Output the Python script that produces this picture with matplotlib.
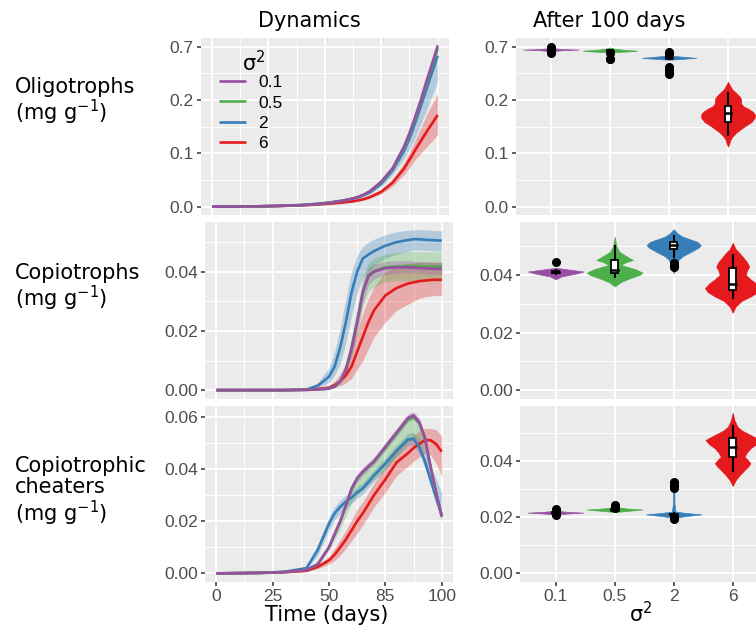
import numpy as np
import matplotlib
matplotlib.use('Agg')
import matplotlib.pyplot as plt
from matplotlib.patches import Rectangle

plt.rcParams['mathtext.fontset'] = 'dejavusans'

W, H = 756, 628
sigma_labels = ['0.1', '0.5', '2', '6']
colors = ['#984EA3', '#4DAF4A', '#377EB8', '#E41A1C']

# time grid of the dynamics panels (days)
time_days = [0, 10, 20, 30, 40, 45, 50, 52.5, 55, 57.5, 60, 62.5, 65, 67.5, 70,
             75, 80, 85, 87.5, 90, 92.5, 95, 97.5, 100]

# ---- oligotrophs (order: 0.1, 0.5, 2, 6) ----
oligo_mid = [
    [0, .0002, .0007, .0015, .003, .0045, .0065, .0078, .0093, .011, .013, .0155, .0185, .023, .029, .047, .072, .112, .138, .168, .200, .235, .268, .302],
    [0, .0002, .0007, .0015, .003, .0045, .0065, .0078, .0093, .011, .013, .0155, .0185, .023, .029, .046, .071, .110, .136, .165, .197, .231, .264, .297],
    [0, .0002, .0007, .0016, .0032, .0048, .0068, .008, .0095, .011, .013, .015, .018, .022, .027, .043, .068, .104, .128, .157, .188, .220, .252, .283],
    [0, .0002, .0006, .0013, .0025, .0035, .005, .0058, .0067, .0077, .0088, .010, .012, .0145, .018, .028, .045, .071, .088, .106, .123, .140, .156, .172],
]
oligo_lo = [
    [0, .0002, .0007, .0015, .003, .0044, .0063, .0076, .009, .0107, .0126, .015, .018, .0222, .028, .045, .069, .108, .133, .162, .193, .227, .259, .292],
    [0, .0002, .0007, .0015, .003, .0044, .0063, .0076, .009, .0107, .0126, .015, .018, .0222, .028, .044, .068, .106, .131, .159, .190, .223, .255, .287],
    [0, .0002, .0007, .0015, .003, .0045, .0064, .0075, .0088, .010, .0118, .0135, .016, .0195, .024, .038, .060, .090, .108, .130, .155, .180, .208, .235],
    [0, .0002, .0006, .0012, .0023, .0032, .0045, .0052, .006, .0069, .0079, .009, .0105, .0125, .0155, .024, .038, .060, .073, .088, .100, .112, .123, .135],
]
oligo_hi = [
    [0, .0002, .0007, .0015, .003, .0046, .0067, .008, .0096, .0113, .0134, .016, .019, .0238, .030, .049, .075, .116, .143, .174, .207, .243, .277, .312],
    [0, .0002, .0007, .0015, .003, .0046, .0067, .008, .0096, .0113, .0134, .016, .019, .0238, .030, .048, .074, .114, .141, .171, .204, .239, .273, .307],
    [0, .0002, .0007, .0017, .0034, .005, .0071, .0084, .01, .0117, .0138, .016, .019, .0235, .0285, .046, .072, .109, .134, .163, .195, .227, .259, .291],
    [0, .0002, .0006, .0014, .0027, .0038, .0055, .0064, .0074, .0085, .0097, .011, .0135, .0165, .0205, .032, .052, .082, .102, .125, .148, .172, .192, .212],
]

# ---- copiotrophs ----
copio_mid = [
    [0, 0, 0, 0, .0001, .0002, .0005, .0012, .003, .007, .014, .023, .033, .0385, .040, .0412, .0415, .0415, .0414, .0413, .0412, .0411, .041, .041],
    [0, 0, 0, 0, .0001, .0002, .0005, .0012, .003, .007, .0142, .0233, .0333, .0388, .0403, .0415, .0418, .0419, .0419, .0419, .0418, .0418, .0418, .0418],
    [0, 0, 0, 0, .0002, .0015, .0045, .008, .0145, .023, .033, .040, .0445, .0458, .047, .0488, .050, .0507, .051, .051, .0508, .0507, .0506, .0505],
    [0, 0, 0, 0, .0001, .0004, .0008, .0017, .003, .005, .008, .013, .018, .023, .027, .032, .0345, .036, .0364, .0368, .037, .0372, .0373, .0373],
]
copio_lo = [
    [0, 0, 0, 0, .0001, .0002, .0004, .001, .0025, .006, .012, .02, .0295, .0355, .0375, .039, .0395, .0397, .0396, .0395, .0394, .0393, .0392, .0392],
    [0, 0, 0, 0, .0001, .0002, .0004, .0009, .0022, .0052, .011, .019, .028, .033, .035, .0365, .037, .037, .0369, .0368, .0368, .0368, .0368, .0368],
    [0, 0, 0, 0, .0001, .0008, .0025, .005, .009, .016, .025, .033, .038, .040, .042, .0445, .046, .0468, .0472, .0473, .0472, .0471, .047, .0469],
    [0, 0, 0, 0, .0001, .0002, .0004, .0008, .0015, .0025, .004, .007, .010, .014, .018, .023, .027, .029, .030, .031, .0315, .0318, .032, .032],
]
copio_hi = [
    [0, 0, 0, 0, .0001, .0002, .0006, .0014, .0035, .008, .016, .026, .0365, .0415, .0425, .0435, .0437, .0437, .0436, .0435, .0434, .0433, .0432, .0432],
    [0, 0, 0, 0, .0001, .0003, .0007, .0016, .004, .0092, .018, .028, .038, .043, .0445, .046, .0465, .0468, .0468, .0468, .0467, .0467, .0467, .0467],
    [0, 0, 0, 0, .0004, .0025, .0075, .013, .021, .031, .040, .0455, .0485, .050, .051, .0525, .0535, .054, .0542, .0542, .0541, .054, .0539, .0538],
    [0, 0, 0, 0, .0002, .0008, .0016, .003, .0055, .009, .014, .020, .026, .031, .035, .040, .042, .0428, .043, .0432, .0432, .0432, .0432, .0432],
]

# ---- copiotrophic cheaters ----
cheat_mid = [
    [0, .0001, .0002, .0005, .0013, .0035, .010, .015, .020, .026, .0325, .0365, .039, .041, .043, .0485, .054, .0595, .0605, .058, .052, .041, .031, .0217],
    [0, .0001, .0002, .0005, .0013, .0035, .010, .015, .020, .026, .0322, .0362, .0387, .0407, .0427, .048, .0535, .0588, .0598, .0575, .0518, .041, .031, .022],
    [0, .0001, .0002, .0006, .002, .009, .019, .023, .0255, .0275, .029, .031, .0325, .035, .0375, .042, .047, .0513, .0515, .0485, .043, .036, .029, .0223],
    [0, .0001, .0002, .0004, .001, .0025, .005, .0072, .010, .013, .0165, .020, .023, .0265, .030, .036, .0425, .046, .048, .0495, .051, .051, .0495, .0466],
]
cheat_lo = [
    [0, .0001, .0002, .0005, .0012, .0033, .0095, .0143, .019, .025, .031, .035, .0375, .0395, .0415, .047, .0525, .058, .059, .0565, .0505, .0395, .0295, .0205],
    [0, .0001, .0002, .0005, .0012, .003, .009, .013, .017, .022, .027, .030, .032, .034, .036, .040, .045, .050, .052, .051, .047, .038, .029, .0205],
    [0, .0001, .0002, .0005, .0016, .007, .0165, .0205, .023, .025, .0268, .0288, .0303, .0328, .0353, .0398, .0448, .049, .049, .046, .0405, .0335, .0265, .020],
    [0, .0001, .0002, .0003, .0007, .0018, .0035, .005, .007, .0095, .0125, .0155, .0185, .022, .0255, .031, .0375, .041, .043, .0445, .046, .0455, .042, .037],
]
cheat_hi = [
    [0, .0001, .0002, .0005, .0014, .0037, .0105, .0157, .021, .027, .034, .038, .0405, .0425, .0445, .050, .0555, .061, .062, .0595, .0535, .0425, .0325, .023],
    [0, .0001, .0002, .0005, .0014, .0038, .0108, .016, .021, .027, .0335, .0375, .040, .042, .044, .049, .0545, .060, .061, .0585, .053, .042, .032, .023],
    [0, .0001, .0002, .0007, .0025, .011, .0215, .0255, .028, .030, .0312, .0332, .0347, .0372, .0397, .0442, .0492, .0536, .054, .0515, .047, .0415, .036, .031],
    [0, .0001, .0002, .0005, .0013, .0032, .0065, .0095, .013, .0165, .0205, .0245, .0275, .031, .0345, .041, .0475, .051, .053, .0545, .0555, .0555, .055, .0525],
]

# ---- violins after 100 days: outline heights (y) and half widths (w) ----
oligo_vy = [
    [0.2915, 0.2935, 0.2945, 0.2955, 0.2975],
    [0.2895, 0.291, 0.2925, 0.294, 0.296, 0.2985],
    [0.2755, 0.277, 0.279, 0.2805, 0.283, 0.2875],
    [0.1125, 0.118, 0.125, 0.131, 0.138, 0.144, 0.152, 0.159, 0.166, 0.172, 0.178,
     0.1845, 0.1875, 0.192, 0.197, 0.202, 0.206, 0.212, 0.220, 0.228, 0.234],
]
oligo_vw = [
    [0, 0.2, 0.47, 0.2, 0],
    [0, 0.3, 0.46, 0.25, 0.08, 0],
    [0, 0.2, 0.46, 0.3, 0.05, 0],
    [0, 0.02, 0.04, 0.07, 0.13, 0.2, 0.3, 0.40, 0.45, 0.46, 0.42,
     0.33, 0.27, 0.23, 0.22, 0.22, 0.2, 0.15, 0.07, 0.03, 0],
]
copio_vy = [
    [0.0385, 0.0395, 0.0405, 0.0412, 0.0418, 0.0425],
    [0.036, 0.0375, 0.0388, 0.040, 0.0408, 0.042, 0.0435, 0.0445, 0.0452, 0.0465, 0.048, 0.0499, 0.0515, 0.0533],
    [0.0406, 0.042, 0.0435, 0.0452, 0.0465, 0.0481, 0.0495, 0.0504, 0.0515, 0.0533, 0.0545, 0.0559],
    [0.0269, 0.029, 0.031, 0.0325, 0.034, 0.0354, 0.037, 0.0385, 0.040, 0.0415, 0.0429, 0.0445, 0.0475, 0.049, 0.0512],
]
copio_vw = [
    [0, 0.1, 0.35, 0.47, 0.25, 0],
    [0, 0.1, 0.25, 0.42, 0.47, 0.35, 0.1, 0.2, 0.31, 0.2, 0.08, 0.03, 0.015, 0],
    [0, 0.03, 0.05, 0.08, 0.15, 0.3, 0.42, 0.46, 0.4, 0.15, 0.06, 0],
    [0, 0.05, 0.15, 0.3, 0.42, 0.47, 0.4, 0.3, 0.22, 0.24, 0.28, 0.24, 0.12, 0.05, 0],
]
cheat_vy = [
    [0.0209, 0.0213, 0.0216, 0.0219, 0.0223],
    [0.0218, 0.0223, 0.0227, 0.0231, 0.0236],
    [0.0198, 0.0205, 0.021, 0.0215, 0.022, 0.025, 0.030, 0.0333],
    [0.0311, 0.0332, 0.035, 0.0368, 0.038, 0.0392, 0.0405, 0.0415, 0.043, 0.0445, 0.046,
     0.0475, 0.0493, 0.0508, 0.0522, 0.0545, 0.0572],
]
cheat_vw = [
    [0, 0.2, 0.47, 0.2, 0],
    [0, 0.25, 0.47, 0.2, 0],
    [0, 0.25, 0.47, 0.2, 0.03, 0.012, 0.012, 0],
    [0, 0.05, 0.12, 0.2, 0.26, 0.3, 0.25, 0.2, 0.24, 0.3, 0.4, 0.46, 0.3, 0.16, 0.08, 0.03, 0],
]

# box stats: whisker low, q1, median, q3, whisker high
oligo_box = [[0.2935, 0.294, 0.2945, 0.295, 0.2955],
             [0.291, 0.2915, 0.292, 0.293, 0.294],
             [0.2775, 0.278, 0.2795, 0.281, 0.282],
             [0.134, 0.159, 0.175, 0.189, 0.2125]]
copio_box = [[0.0402, 0.0407, 0.041, 0.0413, 0.0418],
             [0.0392, 0.0406, 0.0417, 0.0452, 0.0499],
             [0.0461, 0.0489, 0.0504, 0.0516, 0.0536],
             [0.0319, 0.0348, 0.0369, 0.0423, 0.047]]
cheat_box = [[0.0213, 0.0214, 0.0216, 0.0218, 0.0219],
             [0.0224, 0.0226, 0.0227, 0.0229, 0.0231],
             [0.0205, 0.0208, 0.021, 0.0212, 0.0215],
             [0.0366, 0.0413, 0.0451, 0.0481, 0.0525]]

oligo_out = [[0.2985, 0.297, 0.2895, 0.288], [0.289, 0.2765, 0.2775],
             [0.2905, 0.288, 0.286, 0.262, 0.257, 0.252, 0.248], []]
copio_out = [[0.0446], [], [0.0443, 0.0435, 0.0428], []]
cheat_out = [[0.0228, 0.0222, 0.0212, 0.0208], [0.0243, 0.0238, 0.0232],
             [0.0326, 0.032, 0.0314, 0.0308, 0.0303, 0.0200, 0.0196, 0.0192], []]

fig = plt.figure(figsize=(W / 100, H / 100), dpi=100)


def px_axes(x0, y0, x1, y1):
    return fig.add_axes([x0 / W, 1 - y1 / H, (x1 - x0) / W, (y1 - y0) / H])


def style(ax, yticks, ylabels, yminor, ylim):
    ax.set_facecolor('#EBEBEB')
    for s in ax.spines.values():
        s.set_visible(False)
    ax.set_axisbelow(True)
    ax.set_ylim(*ylim)
    ax.set_yticks(yticks)
    ax.set_yticklabels(ylabels, fontfamily='Liberation Sans', fontsize=12.5, color='#4D4D4D')
    ax.set_yticks(yminor, minor=True)
    ax.grid(which='major', color='white', lw=1.4)
    ax.grid(which='minor', color='white', lw=0.7)
    ax.tick_params(which='major', length=3, width=1.1, color='#333333', pad=2)
    ax.tick_params(which='minor', length=0)


rows = [
    dict(mid=oligo_mid, lo=oligo_lo, hi=oligo_hi, vy=oligo_vy, vw=oligo_vw, box=oligo_box, out=oligo_out,
         yt=[0, 0.1, 0.2, 0.3], yl=['0.0', '0.1', '0.2', '0.7'], ym=[0.05, 0.15, 0.25],
         ylim=(-0.0156, 0.3163), left=(200.7, 38, 449, 215),
         vyt=[0, 0.1, 0.2, 0.3], vyl=['0.0', '0.1', '0.2', '0.7'], vym=[0.05, 0.15, 0.25],
         vlim=(-0.0156, 0.3163), right=(515.6, 38, 763.4, 215),
         label='Oligotrophs\n(mg g$^{-1}$)', label_y=102),
    dict(mid=copio_mid, lo=copio_lo, hi=copio_hi, vy=copio_vy, vw=copio_vw, box=copio_box, out=copio_out,
         yt=[0, 0.02, 0.04], yl=['0.00', '0.02', '0.04'], ym=[0.01, 0.03, 0.05],
         ylim=(-0.003, 0.0568), left=(205, 222, 453, 399),
         vyt=[0, 0.02, 0.04], vyl=['0.00', '0.02', '0.04'], vym=[0.01, 0.03, 0.05],
         vlim=(-0.0031, 0.0584), right=(520.3, 222, 768.1, 399),
         label='Copiotrophs\n(mg g$^{-1}$)', label_y=288),
    dict(mid=cheat_mid, lo=cheat_lo, hi=cheat_hi, vy=cheat_vy, vw=cheat_vw, box=cheat_box, out=cheat_out,
         yt=[0, 0.02, 0.04, 0.06], yl=['0.00', '0.02', '0.04', '0.06'], ym=[0.01, 0.03, 0.05],
         ylim=(-0.0033, 0.0642), left=(205, 405.7, 453, 582),
         vyt=[0, 0.02, 0.04], vyl=['0.00', '0.02', '0.04'], vym=[0.01, 0.03, 0.05],
         vlim=(-0.0031, 0.0597), right=(520.3, 405.7, 768.1, 582),
         label='Copiotrophic\ncheaters\n(mg g$^{-1}$)', label_y=492),
]

t = np.array(time_days)
for r, row in enumerate(rows):
    last = r == len(rows) - 1
    # dynamics panel
    ax = px_axes(*row['left'])
    style(ax, row['yt'], row['yl'], row['ym'], row['ylim'])
    ax.set_xlim(-5, 105)
    ax.set_xticks([0, 25, 50, 75, 100])
    ax.set_xticks([12.5, 37.5, 62.5, 87.5], minor=True)
    for i in [3, 2, 1, 0]:
        ax.fill_between(t, row['lo'][i], row['hi'][i], color=colors[i], alpha=0.3, lw=0)
    handles = {}
    for i in [3, 2, 1, 0]:
        handles[i], = ax.plot(t, row['mid'][i], color=colors[i], lw=1.9, solid_capstyle='butt')
    if last:
        ax.set_xticklabels(['0', '25', '50', '85', '100'], fontfamily='Liberation Sans',
                           fontsize=12.5, color='#4D4D4D')
    else:
        ax.tick_params(axis='x', which='both', length=0, labelbottom=False)
    if r == 0:
        ax.legend([handles[i] for i in range(4)], sigma_labels, loc='upper left',
                  bbox_to_anchor=(0.045, 0.83), frameon=False, handlelength=1.55,
                  handletextpad=0.7, labelspacing=0.3, borderaxespad=0,
                  prop={'family': 'Liberation Sans', 'size': 12.5})
        ax.text(0.165, 0.79, 'σ$^{2}$', transform=ax.transAxes, fontsize=15, va='bottom', ha='left')

    # violin panel
    axv = px_axes(*row['right'])
    style(axv, row['vyt'], row['vyl'], row['vym'], row['vlim'])
    axv.set_xlim(0.4, 4.6)
    axv.set_xticks([1, 2, 3, 4])
    for i in range(4):
        x = i + 1
        vy = np.array(row['vy'][i])
        vw = np.array(row['vw'][i])
        axv.fill_betweenx(vy, x - vw, x + vw, color=colors[i], lw=0.5, edgecolor=colors[i])
        wlo, q1, med, q3, whi = row['box'][i]
        axv.plot([x, x], [wlo, q1], color='black', lw=1.5)
        axv.plot([x, x], [q3, whi], color='black', lw=1.5)
        axv.add_patch(Rectangle((x - 0.055, q1), 0.11, q3 - q1, fc='white', ec='black', lw=1.3, zorder=3))
        axv.plot([x - 0.055, x + 0.055], [med, med], color='black', lw=1.8, zorder=4)
        if row['out'][i]:
            axv.plot([x] * len(row['out'][i]), row['out'][i], 'o', color='black', ms=5.5, zorder=5)
    if last:
        axv.set_xticklabels(sigma_labels, fontfamily='Liberation Sans', fontsize=12.5, color='#4D4D4D')
    else:
        axv.tick_params(axis='x', which='both', length=0, labelbottom=False)

    # row label
    fig.text(15 / W, 1 - row['label_y'] / H, row['label'], fontsize=15, ha='left', va='center',
             linespacing=1.05)

# column titles and axis titles
fig.text(309 / W, 1 - 21 / H, 'Dynamics', fontsize=15, ha='center', va='center')
fig.text(609 / W, 1 - 21 / H, 'After 100 days', fontsize=15, ha='center', va='center')
fig.text(327 / W, 1 - 615 / H, 'Time (days)', fontsize=15, ha='center', va='center')
fig.text(641 / W, 1 - 614 / H, 'σ$^{2}$', fontsize=15, ha='center', va='center')

fig.savefig('out.png', dpi=100)
